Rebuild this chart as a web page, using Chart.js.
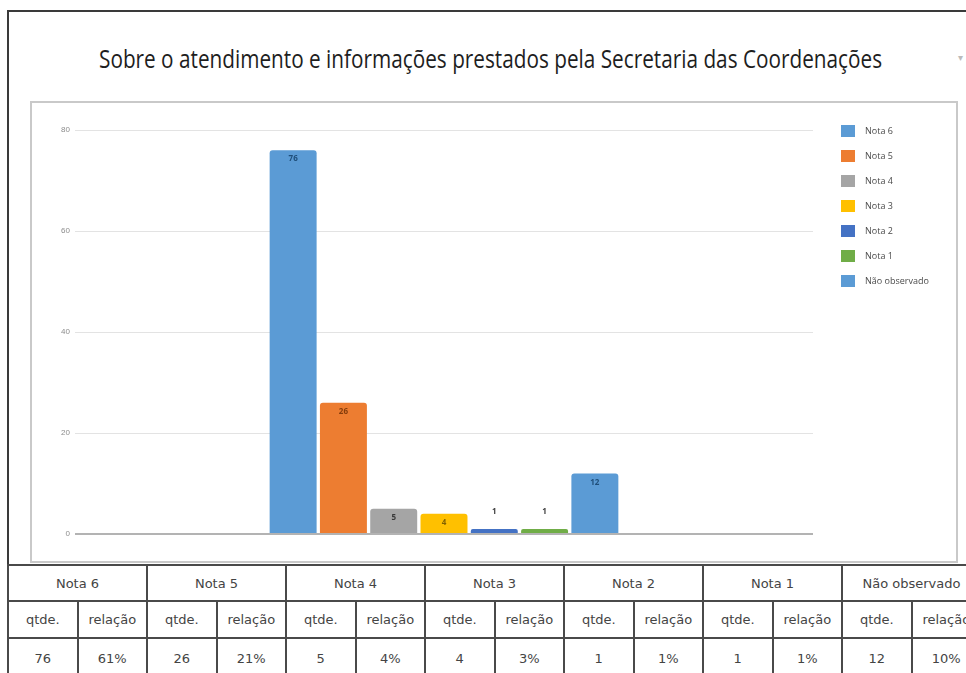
<!DOCTYPE html>
<html>
<head>
<meta charset="utf-8">
<script src="https://cdn.jsdelivr.net/npm/chart.js@4.4.0/dist/chart.umd.min.js"></script>
<style>
    body { margin: 0; width: 966px; height: 673px; overflow: hidden; background: #fff; position: relative; font-family: "Open Sans", sans-serif; }
    #frame { position: absolute; left: 7px; top: 10px; width: 1000px; height: 700px; border-left: 2px solid #3a3a3a; border-top: 2px solid #3a3a3a; }
    #title { position: absolute; left: 0; top: 40px; width: 977px; text-align: center; font-size: 26px; line-height: normal; color: #1e1e1e; white-space: nowrap; }
    #title span { display: inline-block; transform-origin: center; }
    #mark { position: absolute; left: 958px; top: 50px; font-size: 10px; color: #bbb; }
    #box { position: absolute; left: 30px; top: 101px; width: 928px; height: 462px; box-sizing: border-box; border: 2px solid #c9c9c9; }
    #chart { position: absolute; left: 0; top: 0; }
    table { position: absolute; left: 7px; top: 564px; width: 973px; border-collapse: collapse; table-layout: fixed; }
    td { border: 2px solid #4a4a4a; text-align: center; font-family: "DejaVu Sans", sans-serif; font-size: 13px; color: #444; padding: 0; white-space: nowrap; overflow: hidden; }
</style>
</head>
<body>
<div id="frame"></div>
<div id="title"><span>Sobre o atendimento e informações prestados pela Secretaria das Coordenações</span></div>
<div id="mark">▾</div>
<div id="box"><canvas id="chart" width="924" height="458"></canvas></div>
<table id="tbl"></table>

<script>
const categories = [""];
const seriesLabels = ["Nota 6", "Nota 5", "Nota 4", "Nota 3", "Nota 2", "Nota 1", "Não observado"];
const counts = [76, 26, 5, 4, 1, 1, 12];
const shares = ["61%", "21%", "4%", "3%", "1%", "1%", "10%"];
const yTicks = [0, 20, 40, 60, 80];

const barColors = ["#5b9bd5", "#ed7d31", "#a5a5a5", "#ffc000", "#4472c4", "#70ad47", "#5b9bd5"];
const labelColors = ["#1f4e79", "#843c0c", "#3a3a3a", "#7f6000", "#404040", "#404040", "#1f4e79"];

// the title in the picture is a tall, narrow face: squeeze it to its width
const titleSpan = document.querySelector("#title span");
titleSpan.style.transform = "scaleX(" + (783 / titleSpan.getBoundingClientRect().width) + ")";

// table under the chart
const tbl = document.getElementById("tbl");
let html = "<colgroup>" + "<col style='width:69.5px'>".repeat(seriesLabels.length * 2) + "</colgroup>";
html += "<tr style='height:36px'>" + seriesLabels.map(s => `<td colspan="2">${s}</td>`).join("") + "</tr>";
html += "<tr style='height:37px'>" + seriesLabels.map(() => "<td>qtde.</td><td>relação</td>").join("") + "</tr>";
html += "<tr style='height:40px'>" + seriesLabels.map((s, i) => `<td>${counts[i]}</td><td>${shares[i]}</td>`).join("") + "</tr>";
tbl.innerHTML = html;

// value labels on the bars
const valueLabels = {
    id: "valueLabels",
    afterDatasetsDraw(chart) {
        const c = chart.ctx;
        c.save();
        c.font = "bold 8px 'Open Sans'";
        c.textAlign = "center";
        c.textBaseline = "middle";
        chart.data.datasets.forEach((ds, i) => {
            const bar = chart.getDatasetMeta(i).data[0];
            const v = ds.data[0];
            c.fillStyle = labelColors[i];
            c.fillText(v, bar.x, v >= 4 ? bar.y + 9 : bar.y - 17);
        });
        c.restore();
    }
};

// legend on the right, top aligned with the plot
const sideLegend = {
    id: "sideLegend",
    afterDraw(chart) {
        const c = chart.ctx;
        const x = chart.chartArea.right + 28;
        c.save();
        c.font = "9px 'Open Sans'";
        c.textBaseline = "middle";
        chart.data.datasets.forEach((ds, i) => {
            const y = chart.chartArea.top + 1 + i * 25;
            c.fillStyle = ds.backgroundColor;
            c.fillRect(x, y - 6, 14, 12);
            c.fillStyle = "#4a4a4a";
            c.fillText(ds.label, x + 24, y);
        });
        c.restore();
    }
};

new Chart(document.getElementById("chart"), {
    type: "bar",
    data: {
        labels: categories,
        datasets: seriesLabels.map((name, i) => ({
            label: name,
            data: [counts[i]],
            backgroundColor: barColors[i],
            borderRadius: 3,
            categoryPercentage: 0.477,
            barPercentage: 0.934
        }))
    },
    options: {
        responsive: false,
        animation: false,
        layout: { padding: { left: 0, top: 27, right: 143, bottom: 27 } },
        plugins: {
            legend: { display: false },
            tooltip: { enabled: false }
        },
        scales: {
            x: { display: false },
            y: {
                min: 0,
                max: 80,
                afterFit(s) { s.width = 43; },
                afterBuildTicks(s) { s.ticks = yTicks.map(v => ({ value: v })); },
                ticks: { padding: 5, color: "#8c8c8c", font: { size: 8 } },
                grid: {
                    drawTicks: false,
                    color: c => c.tick.value === 0 ? "#b3b3b3" : "#e3e3e3",
                    lineWidth: c => c.tick.value === 0 ? 2 : 1
                },
                border: { display: false }
            }
        }
    },
    plugins: [valueLabels, sideLegend]
});
</script>
</body>
</html>
